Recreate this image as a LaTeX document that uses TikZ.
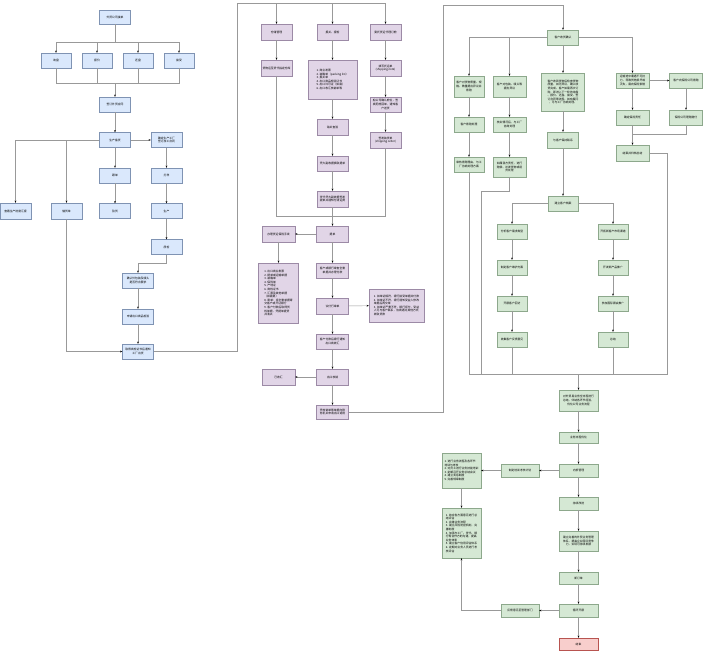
\documentclass[tikz,border=0pt]{standalone}
\usepackage{fontspec}
\setmainfont{Noto Sans CJK SC}
\usetikzlibrary{arrows.meta}
\definecolor{bfill}{HTML}{DAE8FC}
\definecolor{bdraw}{HTML}{7F93B3}
\definecolor{pfill}{HTML}{E1D5E7}
\definecolor{pdraw}{HTML}{9C8AA6}
\definecolor{gfill}{HTML}{D5E8D4}
\definecolor{gdraw}{HTML}{8DA88C}
\definecolor{rfill}{HTML}{F8CECC}
\definecolor{rdraw}{HTML}{B85450}
\definecolor{lcol}{HTML}{999999}
\begin{document}
\begin{tikzpicture}[x=1pt,y=-1pt,
  box/.style={draw, line width=0.4pt, inner sep=0.5pt, align=center,
    font=\fontsize{2.8}{3.6}\selectfont, minimum width=31pt, minimum height=15pt},
  bl/.style={box, fill=bfill, draw=bdraw},
  pu/.style={box, fill=pfill, draw=pdraw},
  gr/.style={box, fill=gfill, draw=gdraw},
  rd/.style={box, fill=rfill, draw=rdraw},
  wh/.style 2 args={minimum width=#1pt, minimum height=#2pt},
  lst/.style={align=left},
  ln/.style={draw=lcol, line width=0.45pt},
  ar/.style={ln, -{Stealth[length=2.2pt,width=1.8pt,color=black]}}]
\fill[white] (0,0) rectangle (703,651);
\useasboundingbox (0,0) rectangle (703,651);

% ---------------- left section ----------------
\node[bl, wh={31}{14}] (L0) at (115,17) {外贸公司接单};
\node[bl, wh={30}{15}] (L1) at (56,60.5) {询盘};
\node[bl, wh={30}{15}] (L2) at (97,60.5) {报价};
\node[bl, wh={30}{15}] (L3) at (138,60.5) {还盘};
\node[bl, wh={30}{15}] (L4) at (179,60.5) {接受};
\node[bl, wh={31}{15}] (L5) at (115,104.5) {签订外贸合同};
\node[bl, wh={31}{15}] (L6) at (115,140) {生产备货};
\node[bl, wh={31}{15}] (L7) at (166.5,140) {确定生产工厂\\签订加工合同};
\node[bl, wh={31}{15}] (L8) at (115,175.5) {跟单};
\node[bl, wh={31}{15}] (L9) at (115,211) {验货};
\node[bl, wh={31}{15}] (L10) at (166.5,175.5) {打样};
\node[bl, wh={31}{15}] (L11) at (166.5,211) {生产};
\node[bl, wh={31}{15}] (L12) at (166.5,247) {质检};
\node[bl, wh={31}{16}] (L13) at (15.5,211) {查看生产进度汇报};
\node[bl, wh={31}{16}] (L14) at (66.5,211) {催货单};
\node[bl, wh={31}{15}] (L15) at (138,280.5) {确认外包装及唛头\\是否符合要求};
\node[bl, wh={31}{15}] (L16) at (138,316.5) {申请出口商品检验};
\node[bl, wh={31}{15}] (L17) at (138,351.5) {取得商检证书后通知\\工厂出货};

\coordinate (b1) at (115,42);
\coordinate (b2) at (115,83);
\draw[ln] (L0.south) -- (b1);
\foreach \n in {L1,L2,L3,L4} {
  \draw[ar] (b1) -| (\n.north);
  \draw[ln] (\n.south) |- (b2);
}
\draw[ar] (b2) -- (L5.north);
\draw[ar] (L5) -- (L6);
\draw[ar] (L6) -- (L7);
\draw[ar] (L6.west) -| (L13.north);
\draw[ar] (L6.west) -| (L14.north);
\draw[ar] (L6) -- (L8);
\draw[ar] (L8) -- (L9);
\draw[ar] (L7) -- (L10);
\draw[ar] (L10) -- (L11);
\draw[ar] (L11) -- (L12);
\coordinate (c1) at (138,263);
\draw[ar] (L12.south) |- (c1) -- (L15.north);
\draw[ar] (L15) -- (L16);
\draw[ar] (L16) -- (L17);
\draw[ar] (L14.south) |- (L17.west);

% ---------------- middle section ----------------
\node[pu, wh={31}{16}] (MA1) at (276.5,32) {仓储管理};
\node[pu, wh={31}{16}] (MA2) at (276.5,68) {货物运至货代指定仓库};
\node[pu, wh={31}{16}] (MB1) at (332.5,32) {报关、报检};
\node[pu, lst, wh={49}{39}] (MB2) at (332.5,79.5) {1. 商业发票\\2. 装箱单（packing list）\\3. 报关单\\4. 出口商品检验证书\\5. 出口许可证（如需）\\6. 出口收汇核销单等};
\node[pu, wh={31}{16}] (MC1) at (385.5,32) {委托货运代理订舱};
\node[pu, wh={31}{16}] (MC2) at (385.5,68) {填写托运单\\(shipping note)};
\node[pu, wh={31}{15}] (MC3) at (385.5,104.5) {船公司确认舱位，签\\发配舱回单，通知客\\户送货};
\node[pu, wh={31}{16}] (MC4) at (385.5,140) {签发装货单\\(shipping order)};
\node[pu, wh={31}{16}] (MB3) at (332.5,127) {海关查验};
\node[pu, wh={31}{15}] (MB4) at (332.5,163.5) {凭大副收据换取提单};
\node[pu, wh={31}{16}] (MB5) at (332.5,199) {货代凭大副收据签发\\提单并通知付清运费};
\node[pu, wh={32}{16}] (MB6) at (332.5,234) {提单};
\node[pu, wh={33}{16}] (MA3) at (278.5,234) {办理货运保险手续};
\node[pu, lst, wh={40}{60}] (MA4) at (278.5,293) {1. 出口商业发票\\2. 提单或运输单据\\3. 装箱单\\4. 保险单\\5. 产地证\\6. 商检证书\\7. 汇票及其他单据\\（如需要）\\8. 寄单：将全套单据寄\\交客户或开证银行\\9. 客户付款后取得货\\权单据，凭提单提货\\并清关};
\node[pu, wh={32}{15}] (MB7) at (332.5,270.5) {客户或银行审查全套\\单据并办理付款};
\node[pu, wh={32}{16}] (MB8) at (332.5,306) {议付行审单};
\node[pu, lst, wh={55}{33}] (MX) at (396.5,305.5) {1. 如单证相符，银行接受单据并付款\\2. 如单证不符，银行通知受益人修改\\单据后再交单\\3. 如单证严重不符，银行拒付，受益\\人可与客户联系，协商通过其他方式\\收取货款};
\node[pu, wh={32}{15}] (MB9) at (332.5,341.5) {客户付款后银行通知\\出口商收汇};
\node[pu, wh={32}{16}] (MB10) at (332.5,377) {出口核销};
\node[pu, wh={33}{16}] (MA5) at (278.5,377) {已收汇};
\node[pu, wh={32}{14}] (MB11) at (332.5,412) {凭核销单等单据向税\\务机关申请出口退税};

\coordinate (t0) at (237,3);
\coordinate (tC) at (385.5,3);
\draw[ln] (L17.east) -| (t0) -- (tC);
\foreach \n in {MA1,MB1,MC1} \draw[ar] (\n.north |- t0) -- (\n.north);
\draw[ar] (MA1) -- (MA2);
\draw[ar] (MB1) -- (MB2);
\draw[ar] (MB2) -- (MB3);
\draw[ar] (MB3) -- (MB4);
\draw[ar] (MB4) -- (MB5);
\draw[ar] (MC1) -- (MC2);
\draw[ar] (MC2) -- (MC3);
\draw[ar] (MC3) -- (MC4);
\coordinate (d1) at (332.5,216);
\draw[ln] (MA2.south) |- (d1);
\draw[ln] (MC4.south) |- (d1);
\draw[ar] (MB5) -- (MB6);
\draw[ar] (MB6) -- (MA3);
\draw[ar] (MA3) -- (MA4);
\draw[ar] (MB6) -- (MB7);
\draw[ar] (MB7) -- (MB8);
\draw[ar] (MB8) -- (MX);
\draw[ar] (MB8) -- (MB9);
\draw[ar] (MB9) -- (MB10);
\draw[ar] (MB10) -- (MA5);
\draw[ar] (MB10) -- (MB11);

% ---------------- right section ----------------
\node[gr, wh={31}{15}] (R0) at (563,37.5) {客户收货确认};
\node[gr, wh={30}{21}] (R1a) at (469,86.5) {客户对货物质量、规\\格、数量提出异议并\\索赔};
\node[gr, wh={30}{15}] (R1b) at (469,124.5) {客户索赔处理};
\node[gr, wh={30}{15}] (R1c) at (469,164.5) {审核索赔理由，与工\\厂协商处理方案};
\node[gr, wh={33}{21}] (R2a) at (509.5,86.5) {客户对包装、唛头等\\提出异议};
\node[gr, wh={33}{15}] (R2b) at (509.5,124.5) {核实情况后，与工厂\\协商处理};
\node[gr, wh={33}{20}] (R2c) at (509.5,167) {如属我方责任，进行\\赔偿、补发货物或退\\货处理};
\node[gr, wh={43}{38}] (R3a) at (563,92) {客户收到货物后检查货物\\质量，如无异议，确认收\\货完成。客户如需再次订\\购，即进入下一轮的询盘\\、报价、还盘、接受、签\\订合同等流程。如有疑问\\，可与工厂协商处理。};
\node[gr, wh={31}{16}] (R3b) at (563,140) {与客户保持联系};
\node[gr, wh={33}{15}] (R4a) at (632.5,80.5) {运输途中遭遇不可抗\\力，导致货物损坏或\\灭失，需向保险索赔};
\node[gr, wh={33}{15}] (R5a) at (686,80.5) {客户向保险公司索赔};
\node[gr, wh={33}{15}] (R4b) at (632.5,117.5) {确定保险责任};
\node[gr, wh={33}{15}] (R5b) at (686,117.5) {保险公司理赔赔付};
\node[gr, wh={33}{16}] (R4c) at (632.5,153) {结案并归档总结};

\draw[ar] (R0.west) -| (R1a.north);
\draw[ar] (R0.west) -| (R2a.north);
\draw[ar] (R0) -- (R3a);
\draw[ar] (R0.east) -| (R4a.north);
\draw[ar] (R1a) -- (R1b);
\draw[ar] (R1b) -- (R1c);
\draw[ar] (R2a) -- (R2b);
\draw[ar] (R2b) -- (R2c);
\draw[ar] (R3a) -- (R3b);
\draw[ar] (R4a) -- (R5a);
\draw[ar] (R4a) -- (R4b);
\draw[ar] (R5a) -- (R5b);
\draw[ar] (R4b) -- (R4c);
\coordinate (e1) at (632.5,134);
\draw[ln] (R5b.south) |- (e1);

\node[gr, wh={30}{15}] (S0) at (563,203.5) {建立客户档案};
\node[gr, wh={30}{15}] (S1a) at (512,231.5) {分析客户需求类型};
\node[gr, wh={30}{15}] (S1b) at (512,267.5) {制定客户维护方案};
\node[gr, wh={30}{15}] (S1c) at (512,303.5) {开展客户回访};
\node[gr, wh={30}{15}] (S1d) at (512,339.5) {收集客户反馈意见};
\node[gr, wh={30}{15}] (S2a) at (613,231.5) {开拓新客户市场渠道};
\node[gr, wh={30}{15}] (S2b) at (613,267.5) {开发新产品推广};
\node[gr, wh={30}{15}] (S2c) at (613,303.5) {参加国际展会推广};
\node[gr, wh={30}{15}] (S2d) at (613,339.5) {总结};

\draw[ar] (R3b) -- (S0);
\draw[ar] (S0.west) -| (S1a.north);
\draw[ar] (S0.east) -| (S2a.north);
\draw[ar] (S1a) -- (S1b);
\draw[ar] (S1b) -- (S1c);
\draw[ar] (S1c) -- (S1d);
\draw[ar] (S2a) -- (S2b);
\draw[ar] (S2b) -- (S2c);
\draw[ar] (S2c) -- (S2d);

\coordinate (g0) at (469,374);
\coordinate (g1) at (667,374);
\coordinate (h1) at (481,191);
\draw[ln] (R4c.east) -| (g1) -- (g0) -- (R1c.south);
\draw[ln] (R2c.south) |- (h1) -- (h1 |- g0);
\draw[ln] (S1d.south) -- (S1d.south |- g0);
\draw[ln] (S2d.south) -- (S2d.south |- g0);

\node[gr, wh={39}{21}] (T0) at (578.5,400.5) {对外贸易业务全流程进行\\总结，归纳各环节经验，\\优化公司业务流程};
\node[gr, wh={39}{11}] (T1) at (578.5,437.5) {业务流程优化};
\node[gr, wh={39}{13}] (T2) at (578.5,470.5) {内部管理};
\node[gr, wh={38}{13}] (T3) at (520,470.5) {制定培训考核计划};
\node[gr, lst, wh={39}{35}] (T4) at (461.5,470.5) {1. 进行业务流程及各环节\\培训与考核\\2. 对员工进行业务技能培训\\3. 定期召开业务总结会议\\4. 建立奖惩制度\\5. 完善规章制度};
\node[gr, lst, wh={39}{50}] (T5) at (461.5,533) {1. 结合各方面意见进行总\\结评估\\2. 完善业务流程\\3. 建立风险防控机制，完\\善制度\\4. 加强与工厂、货代、银\\行等合作方的沟通，提高\\业务效率\\5. 建立客户信用评估体系\\6. 定期对业务人员进行考\\核评估};
\node[gr, wh={39}{13}] (T6) at (578.5,503.5) {持续改进};
\node[gr, wh={39}{20}] (T7) at (578.5,541) {建立完善的外贸业务管理\\体系，提高企业国际竞争\\力，实现可持续发展};
\node[gr, wh={39}{12}] (T8) at (578.5,578) {新订单};
\node[gr, wh={39}{13}] (T9) at (578.5,610.5) {循环开展};
\node[gr, wh={38}{13}] (T10) at (520,610.5) {反馈意见至管理部门};
\node[rd, wh={39}{12}] (T11) at (578.5,644) {结束};

\coordinate (f1) at (443,5);
\coordinate (f2) at (563,5);
\draw[ar] (MB11.east) -| (f1) -- (f2) -- (R0.north);
\draw[ar] (T0.north |- g0) -- (T0.north);
\draw[ar] (T0) -- (T1);
\draw[ar] (T1) -- (T2);
\draw[ar] (T2) -- (T3);
\draw[ar] (T3) -- (T4);
\draw[ar] (T4) -- (T5);
\draw[ar] (T2) -- (T6);
\draw[ar] (T6) -- (T7);
\draw[ar] (T7) -- (T8);
\draw[ar] (T8) -- (T9);
\draw[ar] (T9) -- (T11);
\draw[ar] (T9) -- (T10);
\draw[ar] (T10.west) -| (T5.south);
\end{tikzpicture}
\end{document}
